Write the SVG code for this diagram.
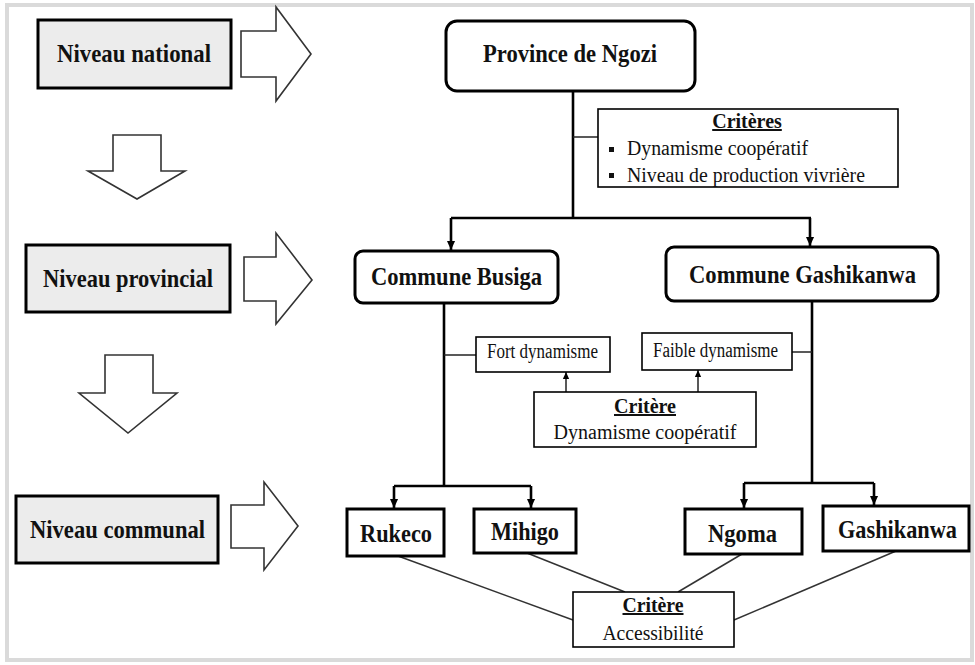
<svg xmlns="http://www.w3.org/2000/svg" width="975" height="665" viewBox="0 0 975 665">
<style>
  .frame{fill:#ffffff;stroke:#dadada;stroke-width:4}
  .level{fill:#ececec;stroke:#000;stroke-width:3}
  .blk{fill:#fff;stroke:#333;stroke-width:1.6;stroke-linejoin:miter}
  .node{fill:#fff;stroke:#000;stroke-width:3}
  .crit{fill:#fff;stroke:#000;stroke-width:1.6}
  .bt{font-family:'Liberation Serif','DejaVu Serif',serif;font-weight:bold;font-size:26px;fill:#111;text-anchor:middle}
  .rt{font-family:'Liberation Serif','DejaVu Serif',serif;font-size:20px;fill:#111}
  .ct{font-family:'Liberation Serif','DejaVu Serif',serif;font-weight:bold;font-size:20px;fill:#111;text-anchor:middle;text-decoration:underline}
  .main{fill:none;stroke:#000;stroke-width:2.6}
  .thin{fill:none;stroke:#222;stroke-width:1.5}
  .diag{fill:none;stroke:#333;stroke-width:1.5}
</style>
<defs>
  <marker id="ah" viewBox="0 0 10 10" refX="10" refY="5" markerUnits="userSpaceOnUse" markerWidth="10" markerHeight="9" orient="auto">
    <path d="M0,0.5 L10,5 L0,9.5 z" fill="#000"/>
  </marker>
  <marker id="ahs" viewBox="0 0 10 10" refX="10" refY="5" markerUnits="userSpaceOnUse" markerWidth="8" markerHeight="7" orient="auto">
    <path d="M0,0.5 L10,5 L0,9.5 z" fill="#000"/>
  </marker>
</defs>
<rect x="0" y="0" width="975" height="665" fill="#fff"/>
<rect class="frame" x="7" y="5" width="965" height="655"/>

<g id="level-national">
  <rect class="level" x="38" y="20" width="193" height="68"/>
  <text class="bt" x="134" y="62" textLength="154" lengthAdjust="spacingAndGlyphs">Niveau national</text>
</g>
<g id="level-provincial">
  <rect class="level" x="26" y="245" width="204" height="67"/>
  <text class="bt" x="128" y="287" textLength="170" lengthAdjust="spacingAndGlyphs">Niveau provincial</text>
</g>
<g id="level-communal">
  <rect class="level" x="16" y="496" width="202" height="67"/>
  <text class="bt" x="117.5" y="538" textLength="175" lengthAdjust="spacingAndGlyphs">Niveau communal</text>
</g>

<g id="block-arrows">
  <polygon class="blk" points="241,31 276,31 276,7 311,54 276,101 276,77 241,77"/>
  <polygon class="blk" points="244,257 276,257 276,233 312,280 276,324 276,301 244,301"/>
  <polygon class="blk" points="231,505 264,505 264,482 298,526 264,570 264,548 231,548"/>
  <polygon class="blk" points="113,135 161,135 161,171 185,171 137,199 88,171 113,171"/>
  <polygon class="blk" points="105,355 153,355 153,393 177,393 128,433 79,393 105,393"/>
</g>

<g id="connectors">
  <path class="main" d="M573,91 V218"/>
  <path class="main" d="M451,218 H811"/>
  <path class="main" d="M451,218 V250" marker-end="url(#ah)"/>
  <path class="main" d="M810,218 V246" marker-end="url(#ah)"/>
  <path class="thin" d="M573,137 H598"/>
  <path class="main" d="M444,303 V486"/>
  <path class="main" d="M394,486 H531"/>
  <path class="main" d="M394,486 V508" marker-end="url(#ah)"/>
  <path class="main" d="M531,486 V508" marker-end="url(#ah)"/>
  <path class="thin" d="M444,355 H476"/>
  <path class="main" d="M812,301 V483"/>
  <path class="main" d="M744,483 H874"/>
  <path class="main" d="M744,483 V508" marker-end="url(#ah)"/>
  <path class="main" d="M874,483 V505" marker-end="url(#ah)"/>
  <path class="thin" d="M792,352 H812"/>
  <path class="thin" d="M566,392 V372" marker-end="url(#ahs)"/>
  <path class="thin" d="M698,392 V370" marker-end="url(#ahs)"/>
  <path class="diag" d="M398,556 L573,620"/>
  <path class="diag" d="M527,553 L625,592"/>
  <path class="diag" d="M742,554 L678,592"/>
  <path class="diag" d="M896,551 L734,620"/>
</g>

<g id="province-ngozi">
  <rect class="node" x="446" y="21" width="249" height="70" rx="11"/>
  <text class="bt" x="570" y="62" textLength="174" lengthAdjust="spacingAndGlyphs">Province de Ngozi</text>
</g>
<g id="criteres-province">
  <rect class="crit" x="598" y="109" width="300" height="78"/>
  <text class="ct" x="747" y="128">Critères</text>
  <rect x="609" y="147" width="5" height="5" fill="#111"/>
  <text class="rt" x="627" y="155" textLength="181" lengthAdjust="spacingAndGlyphs">Dynamisme coopératif</text>
  <rect x="609" y="173" width="5" height="5" fill="#111"/>
  <text class="rt" x="627" y="182" textLength="238" lengthAdjust="spacingAndGlyphs">Niveau de production vivrière</text>
</g>
<g id="commune-busiga">
  <rect class="node" x="355" y="251" width="203" height="52" rx="8"/>
  <text class="bt" x="456.5" y="285" textLength="171" lengthAdjust="spacingAndGlyphs">Commune Busiga</text>
</g>
<g id="commune-gashikanwa">
  <rect class="node" x="666" y="247" width="272" height="54" rx="8"/>
  <text class="bt" x="802.5" y="283" textLength="227" lengthAdjust="spacingAndGlyphs">Commune Gashikanwa</text>
</g>
<g id="fort-dynamisme">
  <rect class="crit" x="476" y="337" width="134" height="35"/>
  <text class="rt" x="487" y="358" font-size="19" textLength="111" lengthAdjust="spacingAndGlyphs">Fort dynamisme</text>
</g>
<g id="faible-dynamisme">
  <rect class="crit" x="642" y="333" width="150" height="37"/>
  <text class="rt" x="653" y="357" font-size="19" textLength="125" lengthAdjust="spacingAndGlyphs">Faible dynamisme</text>
</g>
<g id="critere-dynamisme">
  <rect class="crit" x="534" y="392" width="222" height="55"/>
  <text class="ct" x="645" y="413" textLength="62" lengthAdjust="spacingAndGlyphs">Critère</text>
  <text class="rt" x="645" y="439" text-anchor="middle" textLength="183" lengthAdjust="spacingAndGlyphs">Dynamisme coopératif</text>
</g>
<g id="rukeco">
  <rect class="node" x="347" y="509" width="97" height="47"/>
  <text class="bt" x="396" y="542" textLength="72" lengthAdjust="spacingAndGlyphs">Rukeco</text>
</g>
<g id="mihigo">
  <rect class="node" x="474" y="509" width="102" height="44"/>
  <text class="bt" x="525" y="540" textLength="68" lengthAdjust="spacingAndGlyphs">Mihigo</text>
</g>
<g id="ngoma">
  <rect class="node" x="685" y="509" width="117" height="45"/>
  <text class="bt" x="742.5" y="542" textLength="69" lengthAdjust="spacingAndGlyphs">Ngoma</text>
</g>
<g id="gashikanwa">
  <rect class="node" x="823" y="506" width="146" height="45"/>
  <text class="bt" x="897.5" y="538" textLength="119" lengthAdjust="spacingAndGlyphs">Gashikanwa</text>
</g>
<g id="critere-accessibilite">
  <rect class="crit" x="573" y="592" width="161" height="55"/>
  <text class="ct" x="653" y="612" textLength="61" lengthAdjust="spacingAndGlyphs">Critère</text>
  <text class="rt" x="653" y="640" text-anchor="middle" textLength="101" lengthAdjust="spacingAndGlyphs">Accessibilité</text>
</g>
</svg>
